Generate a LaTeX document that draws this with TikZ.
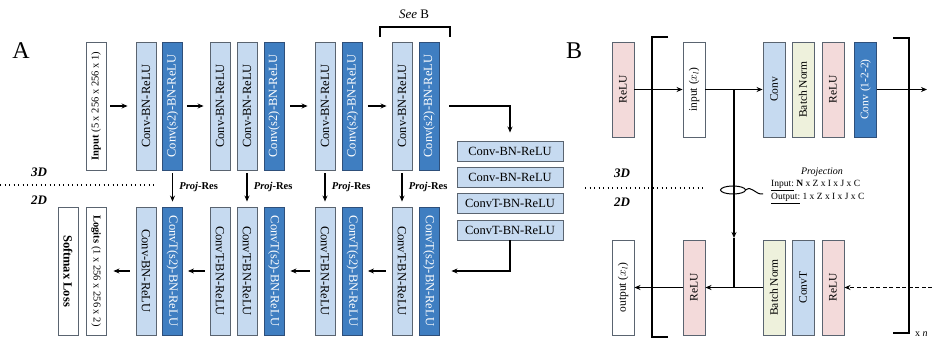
\documentclass[tikz,border=0pt]{standalone}
\usepackage{fontspec}
\setmainfont{Liberation Serif}
\usetikzlibrary{arrows.meta}
\newcommand\rtup[1]{\rotatebox{90}{#1}}
\newcommand\rtdn[1]{\rotatebox{-90}{#1}}
\definecolor{lbl}{HTML}{C6DAF0}
\definecolor{dbl}{HTML}{3F7EC1}
\definecolor{dbord}{HTML}{2E4F7A}
\definecolor{bord}{HTML}{5A6470}
\definecolor{pk}{HTML}{F3DADA}
\definecolor{yg}{HTML}{EEF1DC}
\begin{document}
\begin{tikzpicture}[x=1pt,y=-1pt,
  font=\fontsize{12.5}{14}\selectfont,
  box/.style={draw=bord, line width=0.9pt, inner sep=0pt, minimum width=20pt, minimum height=128pt},
  lt/.style={box, fill=lbl},
  dk/.style={box, fill=dbl, draw=dbord, text=white},
  wt/.style={box, fill=white},
  hbox/.style={draw=bord, fill=lbl, line width=0.9pt, inner sep=0pt, minimum width=106pt, minimum height=20pt},
  bx/.style={draw=bord, line width=0.9pt, inner sep=0pt, minimum width=22pt, minimum height=95pt, font=\fontsize{11.5}{13}\selectfont},
  arr/.style={line width=1.2pt, -{Stealth[length=6pt,width=5pt]}},
  ln/.style={line width=1.2pt},
  dots/.style={line width=1.2pt, dash pattern=on 1pt off 3.5pt},
  dlab/.style={font=\fontsize{13}{14}\selectfont\bfseries\itshape},
  plab/.style={font=\fontsize{10.5}{12}\selectfont\bfseries, anchor=west},
  big/.style={font=\fontsize{24}{26}\selectfont}
]
\useasboundingbox (0,0) rectangle (932,339);
\fill[white] (0,0) rectangle (932,339);

% ---------------- Panel A ----------------
\node[big] (labA) at (21,51) {A};

\node[wt] (in) at (96,106) {\rtup{\fontsize{10.5}{12}\selectfont\textbf{Input} (5 x 256 x 256 x 1)}};
\node[lt] (t1a) at (146,106) {\rtup{Conv-BN-ReLU}};
\node[dk] (t1b) at (172.5,106) {\rtup{Conv(s2)-BN-ReLU}};
\node[lt] (t2a) at (220,106) {\rtup{Conv-BN-ReLU}};
\node[lt] (t2b) at (247,106) {\rtup{Conv-BN-ReLU}};
\node[dk] (t2c) at (274,106) {\rtup{Conv(s2)-BN-ReLU}};
\node[lt] (t3a) at (325,106) {\rtup{Conv-BN-ReLU}};
\node[dk] (t3b) at (352.5,106) {\rtup{Conv(s2)-BN-ReLU}};
\node[lt] (t4a) at (402,106) {\rtup{Conv-BN-ReLU}};
\node[dk] (t4b) at (429,106) {\rtup{Conv(s2)-BN-ReLU}};

\node[wt] (sm) at (68,271) {\rtdn{\textbf{Softmax Loss}}};
\node[wt] (lg) at (96,271) {\rtdn{\fontsize{10.5}{12}\selectfont\textbf{Logits} (1 x 256 x 256 x 2)}};
\node[lt] (b1a) at (146,271) {\rtdn{Conv-BN-ReLU}};
\node[dk] (b1b) at (172.5,271) {\rtdn{ConvT(s2)-BN-ReLU}};
\node[lt] (b2a) at (220,271) {\rtdn{ConvT-BN-ReLU}};
\node[lt] (b2b) at (247,271) {\rtdn{ConvT-BN-ReLU}};
\node[dk] (b2c) at (274,271) {\rtdn{ConvT(s2)-BN-ReLU}};
\node[lt] (b3a) at (325,271) {\rtdn{ConvT-BN-ReLU}};
\node[dk] (b3b) at (352.5,271) {\rtdn{ConvT(s2)-BN-ReLU}};
\node[lt] (b4a) at (402,271) {\rtdn{ConvT-BN-ReLU}};
\node[dk] (b4b) at (429,271) {\rtdn{ConvT(s2)-BN-ReLU}};

\node[hbox] (r1) at (510,151) {Conv-BN-ReLU};
\node[hbox] (r2) at (510,177.5) {Conv-BN-ReLU};
\node[hbox] (r3) at (510,203.5) {ConvT-BN-ReLU};
\node[hbox] (r4) at (510,230) {ConvT-BN-ReLU};

% top arrows
\draw[arr, shorten <=4pt, shorten >=8pt] (in) -- (t1a);
\draw[arr, shorten <=4pt, shorten >=6pt] (t1b) -- (t2a);
\draw[arr, shorten <=6pt, shorten >=7pt] (t2c) -- (t3a);
\draw[arr, shorten <=5pt, shorten >=5pt] (t3b) -- (t4a);
\draw[arr, shorten <=10pt, shorten >=8pt] (t4b.east) -| (r1.north);
\draw[arr, shorten >=12pt] (r4.south) |- (b4b.east);
% bottom arrows
\draw[arr, shorten <=6pt, shorten >=7pt] (b1a) -- (lg);
\draw[arr, shorten <=5pt, shorten >=5pt] (b2a) -- (b1b);
\draw[arr, shorten <=5pt, shorten >=6pt] (b3a) -- (b2c);
\draw[arr, shorten <=6pt, shorten >=5pt] (b4a) -- (b3b);
% proj-res
\draw[arr, shorten <=3pt, shorten >=5pt] (t1b) -- (b1b) node[plab, pos=0.46, xshift=3pt] {\textit{Proj}-Res};
\draw[arr, shorten <=3pt, shorten >=5pt] (t2b) -- (b2b) node[plab, pos=0.46, xshift=3pt] {\textit{Proj}-Res};
\draw[arr, shorten <=3pt, shorten >=5pt] (t3a) -- (b3a) node[plab, pos=0.46, xshift=3pt] {\textit{Proj}-Res};
\draw[arr, shorten <=3pt, shorten >=5pt] (t4a) -- (b4a) node[plab, pos=0.46, xshift=3pt] {\textit{Proj}-Res};

\draw[dots] (0,185) -- (157,185);
\node[dlab] (a3d) at (39,172) {3D};
\node[dlab] (a2d) at (39,200) {2D};

\draw[line width=1.2pt] (380,37) -- (380,27) -- (450,27) -- (450,37);
\node[font=\fontsize{13}{14}\selectfont] (seeb) at (414,14) {\textit{See} B};

% ---------------- Panel B ----------------
\node[big] (labB) at (574,51) {B};

\node[bx, fill=pk] (p1) at (623,89.5) {\rtup{ReLU}};
\node[bx, fill=white] (p2) at (694,89.5) {\rtup{input ($x_l$)}};
\node[bx, fill=lbl] (p3) at (774,89.5) {\rtup{Conv}};
\node[bx, fill=yg] (p4) at (803,89.5) {\rtup{Batch Norm}};
\node[bx, fill=pk] (p5) at (833,89.5) {\rtup{ReLU}};
\node[bx, fill=dbl, draw=dbord, text=white] (p6) at (865.5,89.5) {\rtup{Conv (1-2-2)}};

\node[bx, fill=white] (q1) at (623,287.5) {\rtup{output ($x_l$)}};
\node[bx, fill=pk] (q2) at (694,287.5) {\rtup{ReLU}};
\node[bx, fill=yg] (q3) at (774,287.5) {\rtup{Batch Norm}};
\node[bx, fill=lbl] (q4) at (803,287.5) {\rtup{ConvT}};
\node[bx, fill=pk] (q5) at (833,287.5) {\rtup{ReLU}};

\coordinate (pout) at (927,89.5);
\coordinate (br) at (734,89.5);
\coordinate (bm) at (734,238);
\coordinate (bj) at (734,287.5);
\coordinate (din) at (932,287.5);

\draw[arr] (p1) -- (p2);
\draw[arr] (p2) -- (p3);
\draw[arr] (p6) -- (pout);
\draw[arr] (br) -- (bm);
\draw[ln] (bm) -- (bj);
\draw[arr] (q3) -- (q2);
\draw[arr] (q2) -- (q1);
\draw[arr, dash pattern=on 4pt off 2.5pt] (din) -- (q5);

\draw[line width=1.3pt] (668,37) -- (652,37) -- (652,337) -- (668,337);
\draw[line width=1.3pt] (893,38) -- (909,38) -- (909,333) -- (893,333);
\node[anchor=west, font=\fontsize{10}{11}\selectfont, inner sep=0pt] (xn) at (915,334) {x \textit{n}};

\draw[dots] (585,188) -- (703,188);
\node[dlab] (b3d) at (622,173) {3D};
\node[dlab] (b2d) at (622,202) {2D};

\draw[line width=1pt] (733,190) ellipse [x radius=12.5, y radius=4];
\draw[line width=1pt] (745.5,190) .. controls (752,185) and (755,195) .. (763,194);
\node[font=\fontsize{10}{11}\selectfont\itshape] (proj) at (822,172) {Projection};
\node[anchor=west, font=\fontsize{9.5}{11}\selectfont, inner sep=0pt] (pin) at (771,185.5) {\underline{Input:} \textbf{N} x Z x I x J x C};
\node[anchor=west, font=\fontsize{9.5}{11}\selectfont, inner sep=0pt] (pou) at (771,198.5) {\underline{Output:} 1 x Z x I x J x C};
\end{tikzpicture}
\end{document}
